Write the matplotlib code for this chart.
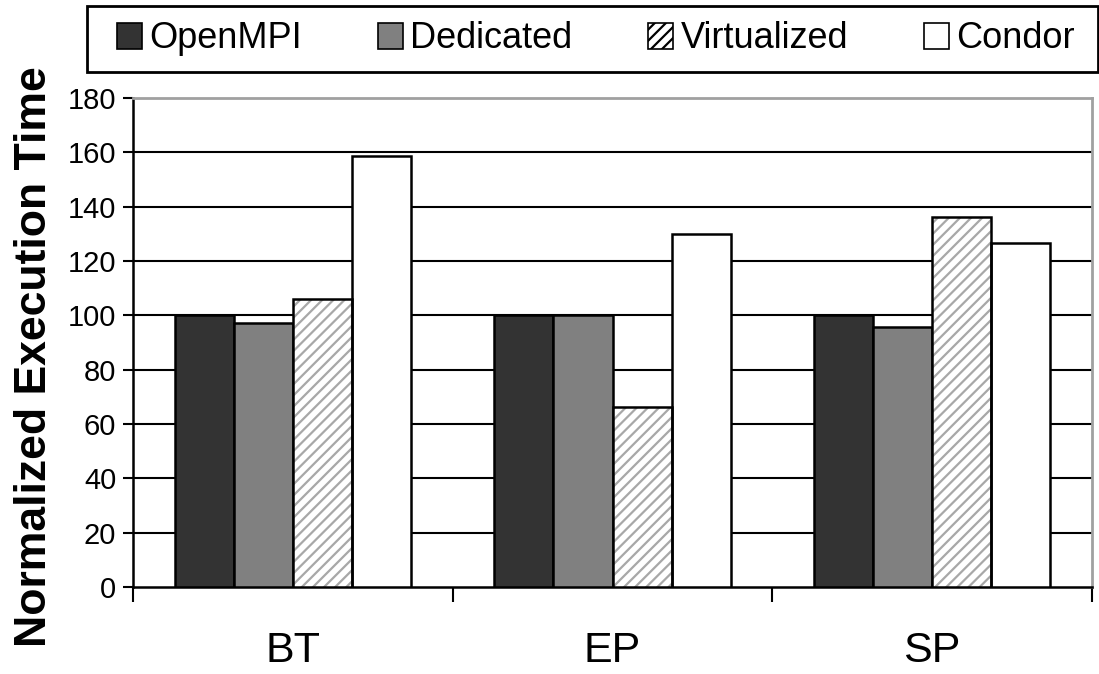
import numpy as np
import matplotlib
matplotlib.use("Agg")
import matplotlib.pyplot as plt
from matplotlib.patches import Patch, Rectangle

plt.rcParams['font.family'] = ['Liberation Sans', 'DejaVu Sans']
plt.rcParams['hatch.linewidth'] = 1.6

benchmarks = ["BT", "EP", "SP"]
series = ["OpenMPI", "Dedicated", "Virtualized", "Condor"]
openmpi = [100, 100, 100]
dedicated = [97.3, 100, 95.8]
virtualized = [105.9, 66.4, 136.2]
condor = [158.6, 130.0, 126.6]
yticks = [0, 20, 40, 60, 80, 100, 120, 140, 160, 180]

values = [openmpi, dedicated, virtualized, condor]
fills = ['#333333', '#808080', 'white', 'white']
hatches = [None, None, '///', None]

fig = plt.figure(figsize=(10.99, 6.74), dpi=100)
ax = fig.add_axes([133 / 1099, 1 - 587 / 674, (1092 - 133) / 1099, (587 - 98) / 674])

centers = np.arange(len(benchmarks)) + 0.5
w = 0.185
for i, vals in enumerate(values):
    x = centers + (i - 1.5) * w
    if hatches[i]:
        ax.bar(x, vals, w, color='white', edgecolor='#a8a8a8', linewidth=0,
               hatch=hatches[i], zorder=3)
        ax.bar(x, vals, w, fill=False, edgecolor='black', linewidth=1.8, zorder=4)
    else:
        ax.bar(x, vals, w, color=fills[i], edgecolor='black', linewidth=1.8, zorder=3)

for y in yticks[1:-1]:
    ax.axhline(y, color='black', linewidth=1.5, zorder=1)

ax.set_xlim(0, 3)
ax.set_ylim(0, 180)
ax.set_yticks(yticks)
ax.tick_params(axis='y', labelsize=21, length=7, width=1.5, pad=5, direction='out')
ax.set_xticks([0, 1, 2, 3])
ax.set_xticklabels([])
ax.tick_params(axis='x', which='major', length=11, width=1.5, direction='out')
ax.set_xticks(centers, minor=True)
ax.set_xticklabels(benchmarks, minor=True, fontsize=31)
ax.tick_params(axis='x', which='minor', length=0, pad=32)

for s in ['left', 'bottom']:
    ax.spines[s].set_color('black')
    ax.spines[s].set_linewidth(1.8)
for s in ['top', 'right']:
    ax.spines[s].set_color('#a0a0a0')
    ax.spines[s].set_linewidth(2)

ax.set_ylabel("Normalized Execution Time", fontsize=32, fontweight='bold')
ax.yaxis.set_label_coords(-0.081, 0.472)

# legend box
fig.patches.append(Rectangle((87 / 1099, 1 - 72 / 674), (1098 - 87) / 1099, 66 / 674,
                             transform=fig.transFigure, fill=False,
                             edgecolor='black', linewidth=2))
handles = []
for i, name in enumerate(series):
    handles.append(Patch(facecolor=fills[i] if not hatches[i] else 'white',
                         edgecolor='black', hatch=hatches[i], linewidth=1.2, label=name))
leg = fig.legend(handles=handles, loc='center', ncol=4, fontsize=26,
                 bbox_to_anchor=((87 + 1098) / 2 / 1099 + 0.003, 1 - 39 / 674),
                 frameon=False, handlelength=0.7, handleheight=0.7,
                 handletextpad=0.2, columnspacing=2.1, borderpad=0)

fig.savefig("out.png", dpi=100)
